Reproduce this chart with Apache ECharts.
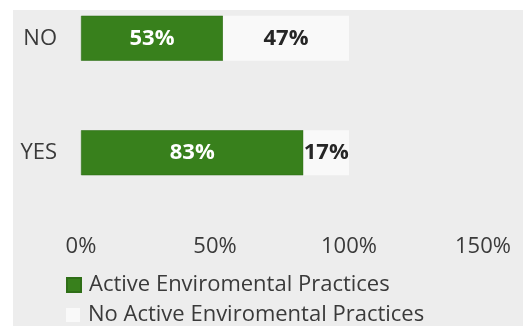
<!DOCTYPE html>
<html>
<head>
<meta charset="utf-8">
<script src="https://cdn.jsdelivr.net/npm/echarts@6/dist/echarts.min.js"></script>
<style>
  html, body { margin: 0; padding: 0; background: #ffffff; }
  #wrap { position: relative; width: 523px; height: 326px; overflow: hidden; }
  #panel { position: absolute; left: 13px; top: 10px; right: 0; bottom: 0; background: #ededed; }
  /* canvas is lifted so the plot band can start above the panel edge */
  #chart { position: absolute; left: 0; top: -19px; width: 523px; height: 345px; }
</style>
</head>
<body>
<div id="wrap">
  <div id="panel"></div>
  <div id="chart"></div>
</div>
<script>
// Survey answers, bottom to top
const categories = ['YES', 'NO'];
const activeShare = [83, 53];
const inactiveShare = [17, 47];
const seriesNames = ['Active Enviromental Practices', 'No Active Enviromental Practices'];
const xTicks = [0, 50, 100, 150];

const FONT = 'Open Sans';
const TEXT = '#3a3a3a';
const chart = echarts.init(document.getElementById('chart'), null, { renderer: 'canvas' });

function legendRow(name, top) {
  return {
    show: true,
    orient: 'horizontal',
    left: 61,
    top: top,
    itemWidth: 14,
    itemHeight: 14,
    itemGap: 0,
    icon: 'rect',
    textStyle: { color: TEXT, fontSize: 22, fontFamily: FONT, padding: [0, 0, 0, 3] },
    data: [name]
  };
}

chart.setOption({
  backgroundColor: 'transparent',
  animation: false,
  textStyle: { fontFamily: FONT },
  grid: { left: 81, right: 40, top: 0, height: 229, containLabel: false },
  xAxis: {
    type: 'value',
    min: xTicks[0],
    max: xTicks[xTicks.length - 1],
    interval: xTicks[1] - xTicks[0],
    splitLine: { show: false },
    axisLine: { show: false },
    axisTick: { show: false },
    axisLabel: {
      formatter: '{value}%',
      color: TEXT,
      fontSize: 22,
      fontFamily: FONT,
      margin: 26
    }
  },
  yAxis: {
    type: 'category',
    data: categories,
    axisLine: { show: false },
    axisTick: { show: false },
    axisLabel: { color: TEXT, fontSize: 22, fontFamily: FONT, margin: 24, padding: [3, 0, 0, 0] }
  },
  legend: [legendRow(seriesNames[0], 288), legendRow(seriesNames[1], 318)],
  series: [
    {
      name: seriesNames[0],
      type: 'bar',
      stack: 'share',
      barWidth: 45,
      data: activeShare,
      itemStyle: { color: '#38801c', borderColor: '#2f6e17', borderWidth: 0.6 },
      label: {
        show: true,
        position: 'inside',
        formatter: '{c}%',
        color: '#ffffff',
        fontWeight: 'bold',
        fontSize: 22,
        fontFamily: FONT
      }
    },
    {
      name: seriesNames[1],
      type: 'bar',
      stack: 'share',
      barWidth: 45,
      data: inactiveShare,
      itemStyle: { color: '#f9f9f9' },
      label: {
        show: true,
        position: 'inside',
        formatter: '{c}%',
        color: '#262626',
        fontWeight: 'bold',
        fontSize: 22,
        fontFamily: FONT
      }
    }
  ]
});
</script>
</body>
</html>
